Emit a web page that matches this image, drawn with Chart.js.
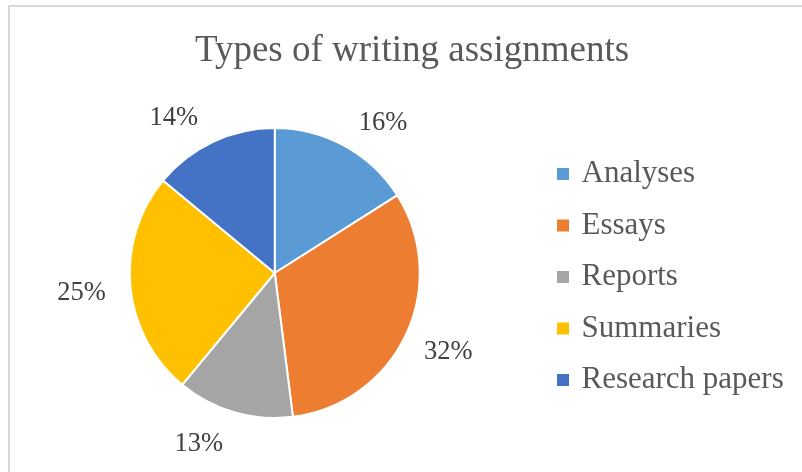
<!DOCTYPE html>
<html><head><meta charset="utf-8">
<script src="https://cdn.jsdelivr.net/npm/chart.js@4"></script>
<style>
html,body{margin:0;padding:0;background:#fff;overflow:hidden;width:802px;height:472px;}
#frame{position:absolute;left:8px;top:5px;border-left:2px solid #d9d9d9;border-top:2px solid #d9d9d9;width:804px;height:470px;}
canvas{display:block;}
</style></head><body>
<div id="frame"><canvas id="c" width="804" height="465"></canvas></div>
<script>
const titleText = 'Types of writing assignments';
const categories = ['Analyses', 'Essays', 'Reports', 'Summaries', 'Research papers'];
const shares = [16, 32, 13, 25, 14];

const FONT = "'Liberation Serif', 'Times New Roman', serif";

const legendWiden = {
  id: 'legendWiden',
  beforeLayout(chart) {
    const lg = chart.legend;
    if (lg && !lg._widened) {
      const f = lg.fit;
      lg.fit = function () { f.call(this); this.width = Math.max(this.width, 274.5); };
      lg._widened = true;
    }
  }
};

const outsideLabels = {
  id: 'outsideLabels',
  afterDatasetsDraw(chart, args, opts) {
    const ctx = chart.ctx;
    const meta = chart.getDatasetMeta(0);
    const data = chart.data.datasets[0].data;
    const total = data.reduce((a, b) => a + b, 0);
    ctx.save();
    ctx.font = opts.font;
    ctx.fillStyle = opts.color;
    ctx.textAlign = 'center';
    ctx.textBaseline = 'middle';
    meta.data.forEach((arc, i) => {
      const p = arc.getProps(['x', 'y', 'startAngle', 'endAngle', 'outerRadius'], true);
      const n = opts.nudge[i] || [0, 0];
      const a = (p.startAngle + p.endAngle) / 2 + n[0] * Math.PI / 180;
      const r = p.outerRadius + opts.gap + n[1];
      ctx.fillText(Math.round(data[i] / total * 100) + '%', p.x + r * Math.cos(a), p.y + r * Math.sin(a) + 1.5);
    });
    ctx.restore();
  }
};

const baseGen = (Chart.overrides.pie || Chart.overrides.doughnut).plugins.legend.labels.generateLabels;

new Chart(document.getElementById('c'), {
  type: 'pie',
  data: {
    labels: categories,
    datasets: [{
      data: shares,
      backgroundColor: ['#5B9BD5', '#ED7D31', '#A5A5A5', '#FFC000', '#4472C4'],
      borderColor: '#ffffff',
      borderWidth: 2,
      radius: 145
    }]
  },
  options: {
    responsive: false,
    animation: false,
    devicePixelRatio: 1,
    layout: { padding: { left: 0, right: 0, top: 0, bottom: 7.4 } },
    plugins: {
      title: {
        display: true,
        text: titleText,
        color: '#595959',
        font: { family: FONT, size: 37, weight: 'normal' },
        padding: { top: 22, bottom: 8 }
      },
      legend: {
        position: 'right',
        fullSize: false,
        title: { display: true, text: '', font: { size: 8, lineHeight: 1 }, padding: 0 },
        labels: {
          boxWidth: 6,
          boxHeight: 6,
          padding: 20.5,
          color: '#595959',
          font: { family: FONT, size: 31 },
          generateLabels(chart) {
            return baseGen(chart).map(it => Object.assign(it, { strokeStyle: it.fillStyle, lineWidth: 6, lineJoin: 'miter' }));
          }
        }
      },
      tooltip: { enabled: false },
      outsideLabels: {
        font: "26.5px " + FONT,
        color: '#404040',
        gap: 41,
        nudge: [[6.8, 0], [-1.1, 4], [7.9, 0], [0, 8], [-7.7, 0]]
      }
    }
  },
  plugins: [legendWiden, outsideLabels]
});
</script>
</body></html>
